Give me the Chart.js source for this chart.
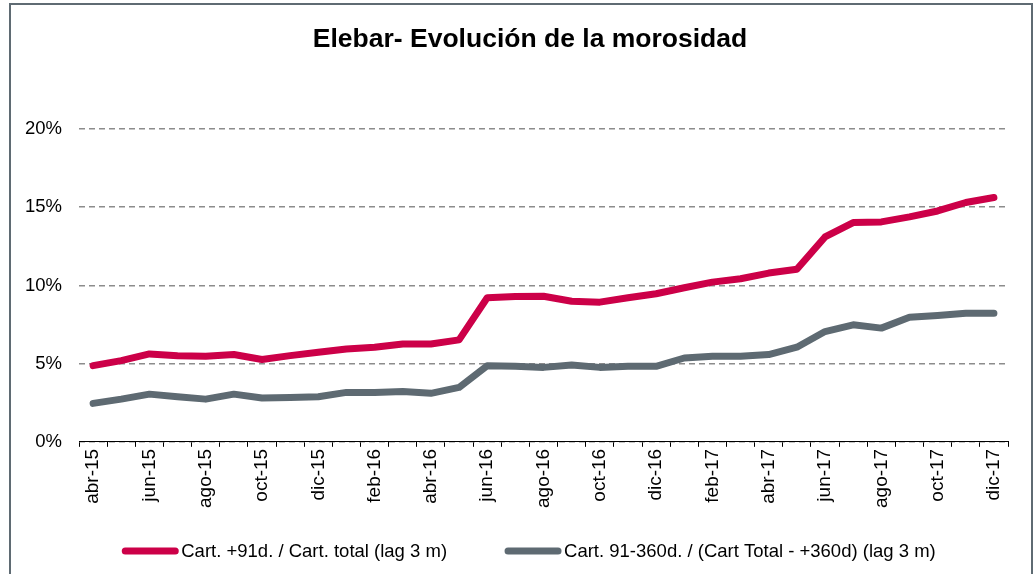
<!DOCTYPE html>
<html>
<head>
<meta charset="utf-8">
<script src="https://cdn.jsdelivr.net/npm/chart.js@4"></script>
<style>
  html, body { margin: 0; padding: 0; background: #fff; overflow: hidden; }
  #frame {
    position: absolute; left: 9px; top: 3px; width: 1024px; height: 620px;
    box-sizing: border-box; border: 2px solid #5f6b73; border-bottom: none;
  }
  #wrap { position: absolute; left: 0; top: 0; width: 1036px; height: 574px; }
</style>
</head>
<body>
<div id="frame"></div>
<div id="wrap"><canvas id="chart" width="1036" height="574"></canvas></div>
<script>
const TITLE = "Elebar- Evolución de la morosidad";

// months, abr-15 .. dic-17
const months = [
  "abr-15", "may-15", "jun-15", "jul-15", "ago-15", "sep-15", "oct-15", "nov-15", "dic-15",
  "ene-16", "feb-16", "mar-16", "abr-16", "may-16", "jun-16", "jul-16", "ago-16", "sep-16",
  "oct-16", "nov-16", "dic-16", "ene-17", "feb-17", "mar-17", "abr-17", "may-17", "jun-17",
  "jul-17", "ago-17", "sep-17", "oct-17", "nov-17", "dic-17"
];

const seriesNames = [
  "Cart. +91d. / Cart. total (lag 3 m)",
  "Cart. 91-360d. / (Cart Total - +360d) (lag 3 m)"
];

// values in %
const mora91 = [
  4.87, 5.19, 5.62, 5.51, 5.47, 5.58, 5.26, 5.51, 5.73,
  5.94, 6.05, 6.26, 6.26, 6.52, 9.21, 9.29, 9.31, 8.99,
  8.93, 9.21, 9.47, 9.85, 10.21, 10.43, 10.79, 11.03, 13.10,
  14.02, 14.06, 14.38, 14.76, 15.30, 15.62
];
const mora91_360 = [
  2.46, 2.73, 3.05, 2.88, 2.73, 3.05, 2.80, 2.84, 2.88,
  3.16, 3.16, 3.22, 3.10, 3.48, 4.87, 4.83, 4.76, 4.91,
  4.76, 4.83, 4.83, 5.36, 5.47, 5.47, 5.58, 6.05, 7.05,
  7.48, 7.27, 7.97, 8.08, 8.22, 8.22
];

const yTicks = [0, 5, 10, 15, 20];

const RED = "#cc0048";
const GREY = "#5e6a72";
const FONT = "'Liberation Sans', Arial, sans-serif";

// title and legend drawn by hand so position and gaps match the original
const titleAndLegend = {
  id: "titleAndLegend",
  afterDraw(chart) {
    const ctx = chart.ctx;
    ctx.save();
    ctx.fillStyle = "#000";
    ctx.textAlign = "center";
    ctx.textBaseline = "middle";
    ctx.font = "bold 26.5px " + FONT;
    ctx.fillText(TITLE, 530, 40);

    const boxW = 56, gap = 3, spacing = 58, y = 551;
    ctx.font = "18.5px " + FONT;
    const items = chart.data.datasets.map((ds) => ({
      text: ds.label,
      color: ds.borderColor,
      w: boxW + gap + ctx.measureText(ds.label).width,
    }));
    const total = items.reduce((s, it) => s + it.w, 0) + spacing * (items.length - 1);
    let x = 529 - total / 2;
    items.forEach((it) => {
      ctx.strokeStyle = it.color;
      ctx.lineWidth = 7;
      ctx.lineCap = "round";
      ctx.beginPath();
      ctx.moveTo(x + 3, y);
      ctx.lineTo(x + boxW - 3, y);
      ctx.stroke();
      ctx.fillStyle = "#000";
      ctx.textAlign = "left";
      ctx.fillText(it.text, x + boxW + gap, y + 1);
      x += it.w + spacing;
    });
    ctx.restore();
  },
};

const ctx = document.getElementById("chart").getContext("2d");
new Chart(ctx, {
  type: "line",
  data: {
    labels: months,
    datasets: [
      {
        label: seriesNames[0],
        data: mora91,
        borderColor: RED,
        backgroundColor: RED,
        borderWidth: 7,
        pointRadius: 0,
        tension: 0,
        borderCapStyle: "round",
        borderJoinStyle: "round",
      },
      {
        label: seriesNames[1],
        data: mora91_360,
        borderColor: GREY,
        backgroundColor: GREY,
        borderWidth: 7,
        pointRadius: 0,
        tension: 0,
        borderCapStyle: "round",
        borderJoinStyle: "round",
      },
    ],
  },
  options: {
    responsive: false,
    animation: false,
    layout: {
      padding: { left: 8, right: 28, top: 129, bottom: 64 },
    },
    plugins: {
      legend: { display: false },
      tooltip: { enabled: false },
      title: { display: false },
    },
    scales: {
      x: {
        offset: true,
        grid: {
          offset: true,
          drawOnChartArea: false,
          drawTicks: true,
          tickLength: 5,
          color: "#000",
        },
        border: { display: true, color: "#000", width: 1 },
        ticks: {
          autoSkip: false,
          minRotation: 90,
          maxRotation: 90,
          padding: 2,
          color: "#000",
          font: { family: FONT, size: 19 },
          callback: (v, i) => (i % 2 === 0 ? months[i] : ""),
        },
      },
      y: {
        min: yTicks[0],
        max: yTicks[yTicks.length - 1],
        afterBuildTicks: (scale) => {
          scale.ticks = yTicks.map((v) => ({ value: v }));
        },
        grid: {
          drawTicks: false,
          color: "#8c8c8c",
          lineWidth: 1.5,
        },
        border: { display: false, dash: [6, 4] },
        ticks: {
          padding: 17,
          color: "#000",
          font: { family: FONT, size: 18.5 },
          callback: (v) => v + "%",
        },
      },
    },
  },
  plugins: [titleAndLegend],
});
</script>
</body>
</html>
